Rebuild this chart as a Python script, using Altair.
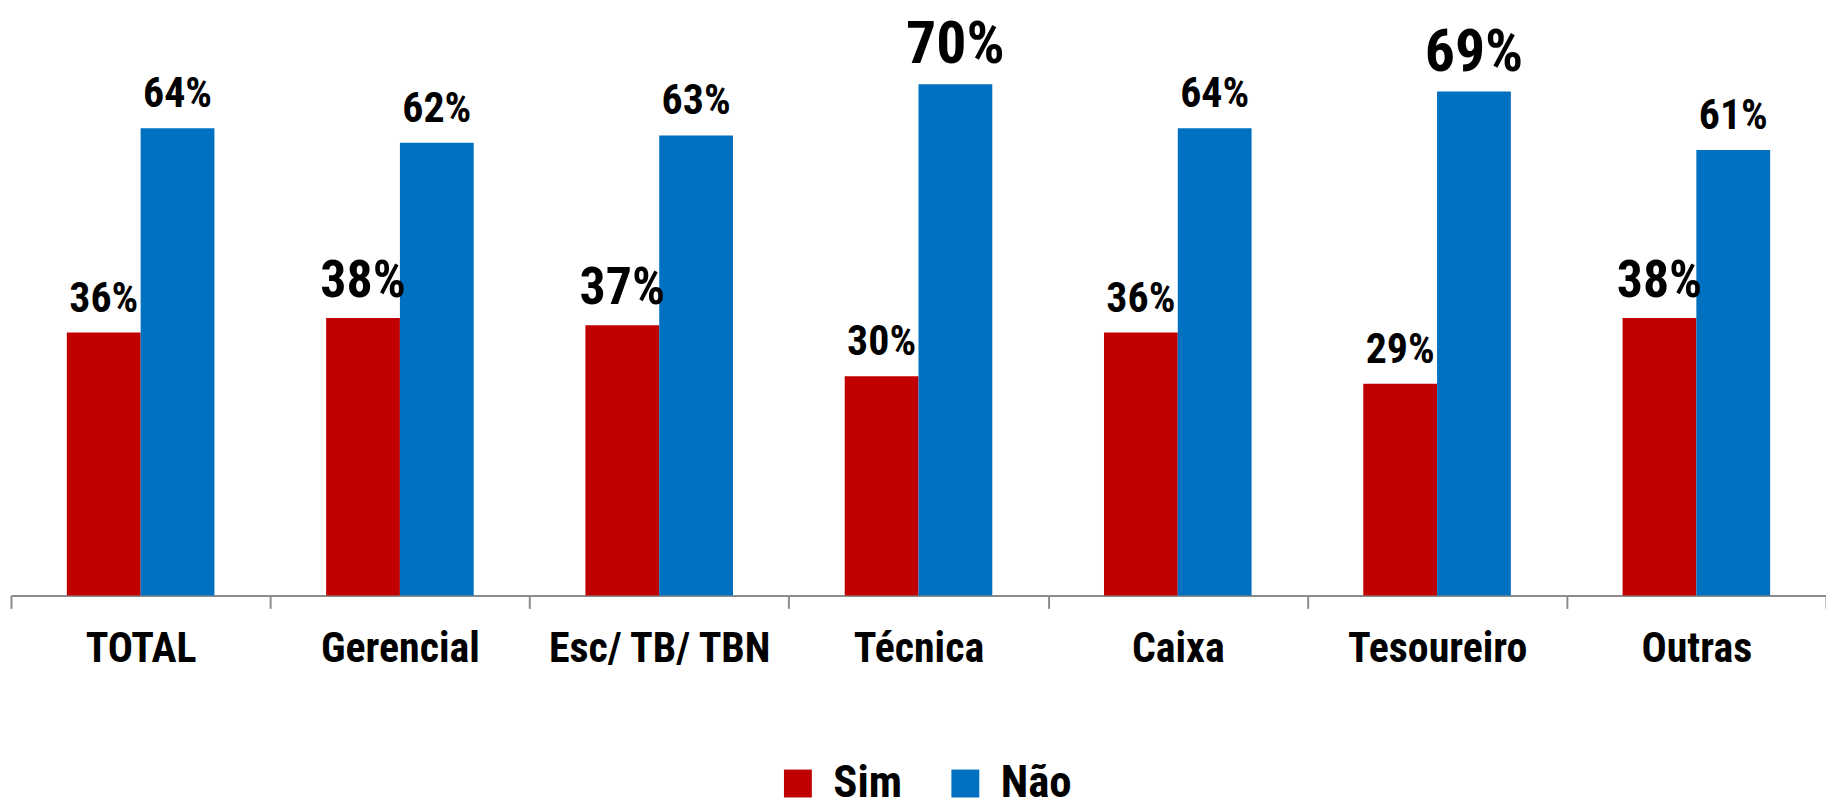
import altair as alt
import pandas as pd

# ---- data ----
categories = ["TOTAL", "Gerencial", "Esc/ TB/ TBN", "Técnica", "Caixa", "Tesoureiro", "Outras"]
series = ["Sim", "Não"]
sim_values = [36, 38, 37, 30, 36, 29, 38]
nao_values = [64, 62, 63, 70, 64, 69, 61]

# ---- styling (font size of each value label, as emphasised in the reference) ----
sim_label_sizes = [42, 52, 52, 42, 42, 42, 52]
nao_label_sizes = [42, 42, 42, 60, 42, 60, 42]
colors = ["#C00000", "#0070C0"]
FONT = "Roboto Condensed"

rows = []
for i, cat in enumerate(categories):
    rows.append({"categoria": cat, "serie": "Sim", "valor": sim_values[i],
                 "rotulo": f"{sim_values[i]}%", "fs": sim_label_sizes[i]})
    rows.append({"categoria": cat, "serie": "Não", "valor": nao_values[i],
                 "rotulo": f"{nao_values[i]}%", "fs": nao_label_sizes[i]})
df = pd.DataFrame(rows)

x = alt.X(
    "categoria:N",
    sort=categories,
    scale=alt.Scale(paddingInner=0, paddingOuter=0),
    axis=alt.Axis(
        title=None, labelAngle=0, labelFont=FONT, labelFontSize=42,
        labelFontWeight="bold", labelColor="black", labelLimit=0,
        labelBaseline="alphabetic", labelPadding=53,
        domainColor="#8c8c8c", domainWidth=2,
        tickColor="#8c8c8c", tickWidth=2, tickSize=13, tickBand="extent",
        grid=False,
    ),
)
xo = alt.XOffset("serie:N", sort=series,
                 scale=alt.Scale(paddingOuter=0.757, paddingInner=0))
y = alt.Y("valor:Q", scale=alt.Scale(domain=[0, 80]), axis=None)

bars = alt.Chart(df).mark_bar().encode(
    x=x, xOffset=xo, y=y,
    color=alt.Color(
        "serie:N", sort=series,
        scale=alt.Scale(domain=series, range=colors),
        legend=alt.Legend(
            title=None, orient="none", legendX=767, legendY=752,
            direction="horizontal", symbolType="square", symbolSize=784,
            symbolStrokeWidth=0, symbolOpacity=1,
            labelFont=FONT, labelFontSize=45, labelFontWeight="bold",
            labelColor="black", labelOffset=13, columnPadding=41, labelLimit=0,
        ),
    ),
)

labels = alt.Chart(df).mark_text(
    baseline="alphabetic", align="center", dy=-21, font=FONT,
    fontWeight="bold", color="black",
).encode(
    x=x, xOffset=xo, y=y,
    text="rotulo:N",
    size=alt.Size("fs:Q", scale=None, legend=None),
)

chart = (
    alt.layer(bars, labels)
    .properties(
        width=1821, height=586,
        padding={"left": 3, "top": 2, "right": 0, "bottom": 214},
        autosize=alt.AutoSizeParams(type="none"),
    )
    .configure_view(stroke=None)
)

chart.save("out.html", embed_options={"renderer": "svg", "actions": False})
